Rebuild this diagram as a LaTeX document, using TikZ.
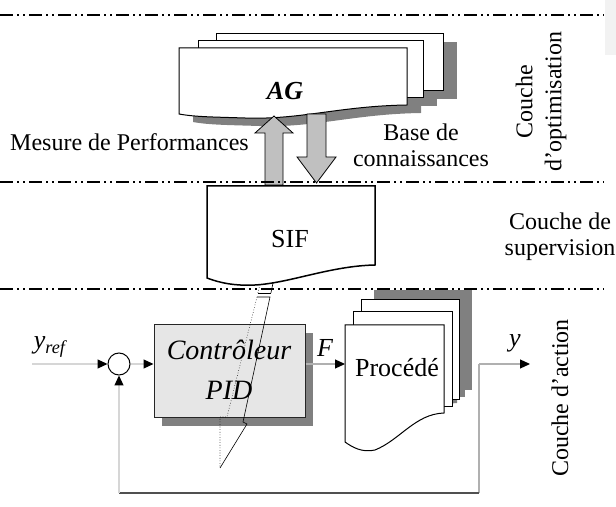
\documentclass[tikz,border=0pt]{standalone}
\usepackage{fontspec}
\setmainfont{Liberation Serif}
\usetikzlibrary{arrows.meta}
\definecolor{shade}{HTML}{808080}
\definecolor{arrowgray}{HTML}{C0C0C0}
\definecolor{ctrlgray}{HTML}{E6E6E6}
\definecolor{wirelight}{HTML}{D6D6D6}
\definecolor{wiremid}{HTML}{B0B0B0}
\definecolor{wiredark}{HTML}{505050}
\tikzset{
  layerline/.style={line width=1pt, dash pattern=on 6.5pt off 2pt on 1pt off 2pt on 1pt off 2pt},
  sheet/.style={draw=black, fill=white, line width=0.5pt},
  shadowfill/.style={fill=shade, draw=none},
  bigarrow/.style={draw=black, fill=arrowgray, line width=0.4pt},
  link/.style={line width=0.6pt, -{Triangle[length=5pt,width=4.5pt,color=black]}},
  lbl/.style={font=\fontsize{12}{13}\selectfont, align=center, inner sep=0pt},
  hollow/.style={line width=0.3pt},
}
\begin{document}
\begin{tikzpicture}[x=0.5pt,y=-0.5pt]
\useasboundingbox (0,0) rectangle (616,507);
\fill[black!5] (605,0) rectangle (616,55);

% ---------- optimisation layer: AG stack ----------
\fill[shadowfill] (230,42) rectangle (457,99);
\fill[shadowfill] (212,49) rectangle (437,106);
\fill[shadowfill] (193,56) -- (421,56) -- (421,113)
  .. controls (354,114) and (314,128) .. (259,126)
  .. controls (229,125) and (209,125) .. (193,122) -- cycle;
\draw[sheet] (216,34) rectangle (443,91);
\draw[sheet] (198,41) rectangle (423,98);
\draw[sheet] (179,48) -- (407,48) -- (407,105)
  .. controls (340,106) and (300,120) .. (245,118)
  .. controls (215,117) and (195,117) .. (179,114) -- cycle;
\node[font=\fontsize{13}{15}\selectfont\bfseries\itshape] (ag) at (285,91) {AG};

% exchange arrows between AG and SIF
\draw[bigarrow] (265,185) -- (265,133) -- (255,133) -- (274,116) -- (293,133) -- (283,133) -- (283,185) -- cycle;
\draw[bigarrow] (307,114) -- (326,114) -- (326,157) -- (336,157) -- (316.5,183) -- (297,157) -- (307,157) -- cycle;

\node[lbl] (mesure) at (129.5,142) {Mesure de Performances};
\node[lbl] (base) at (421,145) {Base de\\connaissances};
\node[lbl, rotate=90, font=\fontsize{12}{14.5}\selectfont] (copt) at (541,102) {Couche\\d’optimisation};

% ---------- action layer ----------
% controller with shadow
\fill[shadowfill] (162,333) rectangle (313,426);
\node[draw=black!85, fill=ctrlgray, minimum width=75.5pt, minimum height=46.5pt, line width=0.5pt] (ctrl) at (229.5,371.5) {};
\node[font=\fontsize{14}{20}\selectfont\itshape, align=center] (ctrltxt) at (229,370) {Contrôleur\\PID};

% process stack with shadow
\fill[shadowfill] (374,290) rectangle (472,390);
\fill[shadowfill] (366,302) rectangle (465,397);
\fill[shadowfill] (358,315) -- (457,315) -- (457,403)
  .. controls (428,404) and (413,430) .. (388,440)
  .. controls (375,443) and (365,437) .. (358,432) -- cycle;
\draw[sheet] (361,300) rectangle (459,400);
\draw[sheet] (353,312) rectangle (452,407);
\draw[sheet] (345,325) -- (444,325) -- (444,413)
  .. controls (415,414) and (400,440) .. (375,450)
  .. controls (362,453) and (352,447) .. (345,442) -- cycle;
\node[font=\fontsize{13}{15}\selectfont] (proctxt) at (397,368) {Procédé};

% summing junction and signal wires
\node[circle, draw=black, minimum size=11pt, inner sep=0pt, line width=0.5pt] (sum) at (119,364) {};
\coordinate (yin) at (32,364);
\coordinate (procW) at (345,364);
\coordinate (tap) at (479,364);
\coordinate (yout) at (530,364);
\coordinate (fbR) at (479,493);
\coordinate (fbL) at (119,493);

\draw[link, draw=wirelight] (yin) -- (sum.west);
\draw[link, draw=wirelight] (sum.east) -- (sum.east -| ctrl.west);
\draw[link, draw=wiremid] (ctrl.east |- sum) -- (procW);
\draw[link, draw=wiremid] (tap) -- (yout);
\draw[line width=0.6pt, draw=wiremid] (tap) -- (fbR);
\draw[line width=0.6pt, draw=wiredark] (fbR) -- (fbL);
\draw[link, draw=wirelight] (fbL) -- (sum.south);

\node[font=\fontsize{13}{15}\selectfont\itshape] (yreflbl) at (50,347) {y\textsubscript{ref}};
\node[font=\fontsize{13}{15}\selectfont\itshape] (flbl) at (325,348) {F};
\node[font=\fontsize{13}{15}\selectfont\itshape] (ylbl) at (515,343) {y};
\node[lbl, rotate=90] (cact) at (560,398) {Couche d’action};

% hollow tuning arrow from SIF down through the controller
\draw[hollow] (263.3,270) -- (275.8,270) -- (270.9,293);
\draw[hollow] (270.9,293) -- (257.9,293);
\draw[hollow, densely dotted] (257.9,293) -- (263.3,270);
\draw[hollow] (257,297) -- (270,297) -- (243,422) -- (247,424) -- (220,468);
\draw[hollow, densely dotted] (257,297) -- (227,417) -- (220,417) -- (220,468);

% ---------- supervision layer: SIF ----------
\draw[draw=black, fill=white, line width=0.75pt] (207,186) -- (375,186) -- (375,265)
  .. controls (330,266) and (290,283) .. (255,285)
  .. controls (235,286) and (220,283) .. (207,278) -- cycle;
\node[font=\fontsize{13}{15}\selectfont] (sif) at (290,239) {SIF};
\node[lbl] (csup) at (560,237) {Couche de\\supervision};

% layer separators
\draw[layerline] (0,15) -- (604,15);
\draw[layerline] (0,182) -- (604,182);
\draw[layerline] (0,289) -- (604,289);
\end{tikzpicture}
\end{document}
